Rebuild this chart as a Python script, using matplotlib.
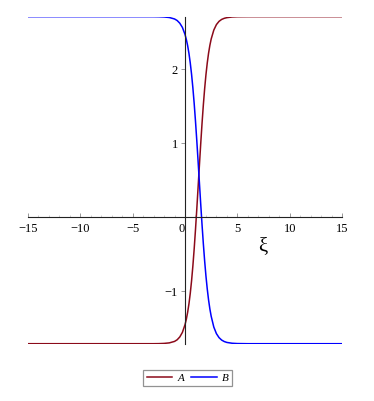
import matplotlib
matplotlib.use("Agg")
import matplotlib.pyplot as plt
from matplotlib.ticker import MultipleLocator

# values (denser where the curves turn)
xi = [-15, -3, -2.5, -2, -1.5, -1, -0.75, -0.5, -0.25, 0,
      0.125, 0.25, 0.375, 0.5, 0.625, 0.75, 0.875, 1,
      1.125, 1.25, 1.375, 1.5, 1.625, 1.75, 1.875, 2,
      2.125, 2.25, 2.375, 2.5, 2.75, 3, 3.25, 3.5, 3.75, 4,
      4.5, 5, 6, 15]
A = [-1.71, -1.71, -1.709, -1.706, -1.699, -1.679, -1.657, -1.619, -1.557, -1.453,
     -1.380, -1.286, -1.172, -1.031, -0.861, -0.660, -0.429, -0.170,
     0.110, 0.405, 0.702, 0.993, 1.266, 1.516, 1.736, 1.926,
     2.085, 2.217, 2.323, 2.408, 2.529, 2.603, 2.647, 2.673, 2.688, 2.697,
     2.706, 2.709, 2.71, 2.71]
B = [2.71, 2.71, 2.709, 2.706, 2.699, 2.679, 2.658, 2.622, 2.565, 2.470,
     2.402, 2.319, 2.214, 2.086, 1.932, 1.749, 1.538, 1.298,
     1.035, 0.754, 0.465, 0.177, -0.100, -0.358, -0.591, -0.796,
     -0.971, -1.119, -1.241, -1.339, -1.485, -1.574, -1.628, -1.661, -1.681, -1.693,
     -1.704, -1.708, -1.71, -1.71]
xticks = [-15, -10, -5, 0, 5, 10, 15]
xticklabels = ["\u221215", "\u221210", "\u22125", "0", "5", "10", "15"]
yticks = [-1, 1, 2]
yticklabels = ["\u22121", "1", "2"]

serif = "Liberation Serif"

fig = plt.figure(figsize=(3.74, 4.01), dpi=100)
ax = fig.add_axes([0.0749, 0.1429, 0.8396, 0.8155])

ax.plot(xi, A, color="#8B0A1A", lw=1.1, label="A", solid_joinstyle="round")
ax.plot(xi, B, color="#0000FF", lw=1.1, label="B", solid_joinstyle="round")

ax.set_xlim(-15, 15)
ax.set_ylim(-1.71, 2.71)

for s in ["top", "right"]:
    ax.spines[s].set_visible(False)
ax.spines["left"].set_position(("data", 0))
ax.spines["bottom"].set_position(("data", 0))
for s in ["left", "bottom"]:
    ax.spines[s].set_color("#222222")
    ax.spines[s].set_linewidth(0.8)

ax.set_xticks(xticks)
ax.set_xticklabels(xticklabels)
ax.xaxis.set_minor_locator(MultipleLocator(1))
ax.set_yticks(yticks)
ax.set_yticklabels(yticklabels)
ax.tick_params(axis="x", which="both", direction="in", labelsize=9, pad=4)
ax.tick_params(axis="x", which="major", length=3, width=0.6, color="#888888")
ax.tick_params(axis="x", which="minor", length=1.8, width=0.5, color="#bbbbbb")
ax.tick_params(axis="y", direction="out", length=3, width=0.6,
               color="#888888", labelsize=9, pad=2)
for lab in ax.get_xticklabels() + ax.get_yticklabels():
    lab.set_fontfamily(serif)
ax.get_xticklabels()[3].set_horizontalalignment("right")

ax.set_xlabel("\u03be", fontsize=15, fontfamily=serif)
ax.xaxis.set_label_coords(0.748, 0.325)

leg = fig.legend(loc="center", bbox_to_anchor=(0.502, 0.057), ncol=2,
                 frameon=True, fancybox=False, handlelength=2.3,
                 columnspacing=0.6, handletextpad=0.5, borderpad=0.3,
                 prop={"family": serif, "style": "italic", "size": 8})
leg.get_frame().set_edgecolor("#777777")
leg.get_frame().set_linewidth(0.9)

fig.savefig("out.png", dpi=100)
